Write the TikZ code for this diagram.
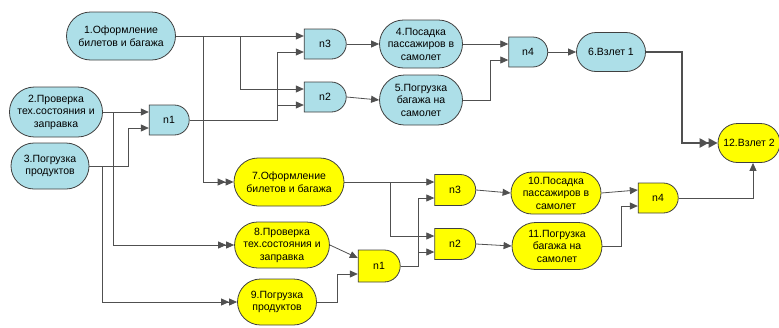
\documentclass[tikz,border=0pt]{standalone}
\usepackage{fontspec}
\setmainfont{Liberation Sans}
\usetikzlibrary{shapes.misc,arrows.meta}
\definecolor{bluefill}{HTML}{ADDFE8}
\definecolor{yel}{HTML}{FFFF00}
\definecolor{edgec}{HTML}{404040}
\definecolor{wire}{HTML}{505050}
\begin{document}
\begin{tikzpicture}[x=1pt,y=-1pt,
 proc/.style={rounded rectangle, draw=edgec, line width=0.8pt, align=center, inner sep=1pt, font=\fontsize{10.5}{12.5}\selectfont},
 gate/.style={rounded rectangle, rounded rectangle left arc=none, draw=edgec, line width=0.8pt, inner sep=1pt, font=\fontsize{10.5}{12.5}\selectfont, minimum height=30pt, minimum width=43pt},
 bl/.style={fill=bluefill}, yl/.style={fill=yel},
 arr/.style={draw=wire, line width=0.8pt, -{Triangle[length=8pt,width=7pt]}},
 darr/.style={draw=wire, line width=0.8pt, -{Triangle[length=8pt,width=7pt] Triangle[length=8pt,width=7pt]}},
 heavy/.style={draw=wire, line width=2.6pt, -{Triangle[length=9pt,width=9pt] Triangle[length=9pt,width=9pt]}},
]
\useasboundingbox (0,0) rectangle (779,327);

% blue nodes
\node[proc,bl,minimum width=111pt,minimum height=48pt] (b1) at (121,36) {1.Оформление\\билетов и багажа};
\node[proc,bl,minimum width=93pt,minimum height=50pt] (b2) at (56,112) {2.Проверка\\тех.состояния и\\заправка};
\node[proc,bl,minimum width=80pt,minimum height=46pt] (b3) at (50,166) {3.Погрузка\\продуктов};
\node[proc,bl,minimum width=85pt,minimum height=48pt] (b4) at (421,44) {4.Посадка\\пассажиров в\\самолет};
\node[proc,bl,minimum width=85pt,minimum height=50pt] (b5) at (421,100) {5.Погрузка\\багажа на\\самолет};
\node[proc,bl,minimum width=71pt,minimum height=39pt] (b6) at (611,52) {6.Взлет 1};
\node[gate,bl,minimum width=42pt] (bn1) at (169,120) {n1};
\node[gate,bl,minimum width=44pt] (bn3) at (325,44) {n3};
\node[gate,bl,minimum width=44pt] (bn2) at (325,97) {n2};
\node[gate,bl,minimum width=41pt] (bn4) at (528,52) {n4};

% yellow nodes
\node[proc,yl,minimum width=112pt,minimum height=48pt] (y7) at (289,182) {7.Оформление\\билетов и багажа};
\node[proc,yl,minimum width=90pt,minimum height=46pt] (y8) at (282,245) {8.Проверка\\тех.состояния и\\заправка};
\node[proc,yl,minimum width=81pt,minimum height=46pt] (y9) at (277,302) {9.Погрузка\\продуктов};
\node[proc,yl,minimum width=92pt,minimum height=42pt] (y10) at (556,193) {10.Посадка\\пассажиров в\\самолет};
\node[proc,yl,minimum width=92pt,minimum height=47pt] (y11) at (557,246) {11.Погрузка\\багажа на\\самолет};
\node[proc,yl,minimum width=64pt,minimum height=39pt] (y12) at (749,143) {12.Взлет 2};
\node[gate,yl,minimum width=44pt,minimum height=32pt] (yn1) at (379,266) {n1};
\node[gate,yl,minimum width=43pt,minimum height=31pt] (yn3) at (455,190) {n3};
\node[gate,yl,minimum width=43pt,minimum height=31pt] (yn2) at (455,244) {n2};
\node[gate,yl,minimum width=42pt] (yn4) at (658,198) {n4};

% junction columns
\coordinate (j1) at (203,0);
\coordinate (j2) at (240,0);
\coordinate (j3) at (277,0);
\coordinate (j4) at (113,0);
\coordinate (j5) at (128,0);
\coordinate (j6) at (102,0);
\coordinate (j7) at (490,0);
\coordinate (j8) at (682,0);
\coordinate (j9) at (390,0);
\coordinate (j10) at (337,0);
\coordinate (j11) at (418,0);
\coordinate (j12) at (621,0);
\coordinate (j13) at (753,0);

% blue connectors
\draw[arr] (b1.east) -- ([yshift=8pt]bn3.west);
\draw[darr] (b1.east -| j1) |- (y7.west);
\draw[arr] (b1.east -| j2) |- ([yshift=8pt]bn2.west);
\draw[arr] (bn1.east) -- (bn1.east -| j3) |- ([yshift=-8pt]bn3.west);
\draw[arr] (bn1.east -| j3) |- ([yshift=-8pt]bn2.west);
\draw[arr] (b2.east) -- ([yshift=8pt]bn1.west);
\draw[darr] (b2.east -| j4) |- (y8.west);
\draw[arr] (b3.east) -- (b3.east -| j5) |- ([yshift=-8pt]bn1.west);
\draw[darr] (b3.east -| j6) |- (y9.west);
\draw[arr] (bn3.east) -- (b4.west);
\draw[arr] (bn2.east) -- (b5.west);
\draw[arr] (b4.east) -- ([yshift=8pt]bn4.west);
\draw[arr] (b5.east) -- (b5.east -| j7) |- ([yshift=-8pt]bn4.west);
\draw[arr] (bn4.east) -- (b6.west);
\draw[heavy] (b6.east) -- (b6.east -| j8) |- (y12.west);

% yellow connectors
\draw[arr] (y7.east) -- ([yshift=8pt]yn3.west);
\draw[arr] (y7.east -| j9) |- ([yshift=8pt]yn2.west);
\draw[arr] (y8.east) -- ([yshift=8pt]yn1.west);
\draw[arr] (y9.east) -- (y9.east -| j10) |- ([yshift=-8pt]yn1.west);
\draw[arr] (yn1.east) -- (yn1.east -| j11) |- ([yshift=-8pt]yn3.west);
\draw[arr] (yn1.east -| j11) |- ([yshift=-8pt]yn2.west);
\draw[arr] (yn3.east) -- (y10.west);
\draw[arr] (yn2.east) -- (y11.west);
\draw[arr] (y10.east) -- ([yshift=8pt]yn4.west);
\draw[arr] (y11.east) -- (y11.east -| j12) |- ([yshift=-8pt]yn4.west);
\draw[arr] (yn4.east) -- (yn4.east -| j13) -- (y12.south -| j13);
\end{tikzpicture}
\end{document}
